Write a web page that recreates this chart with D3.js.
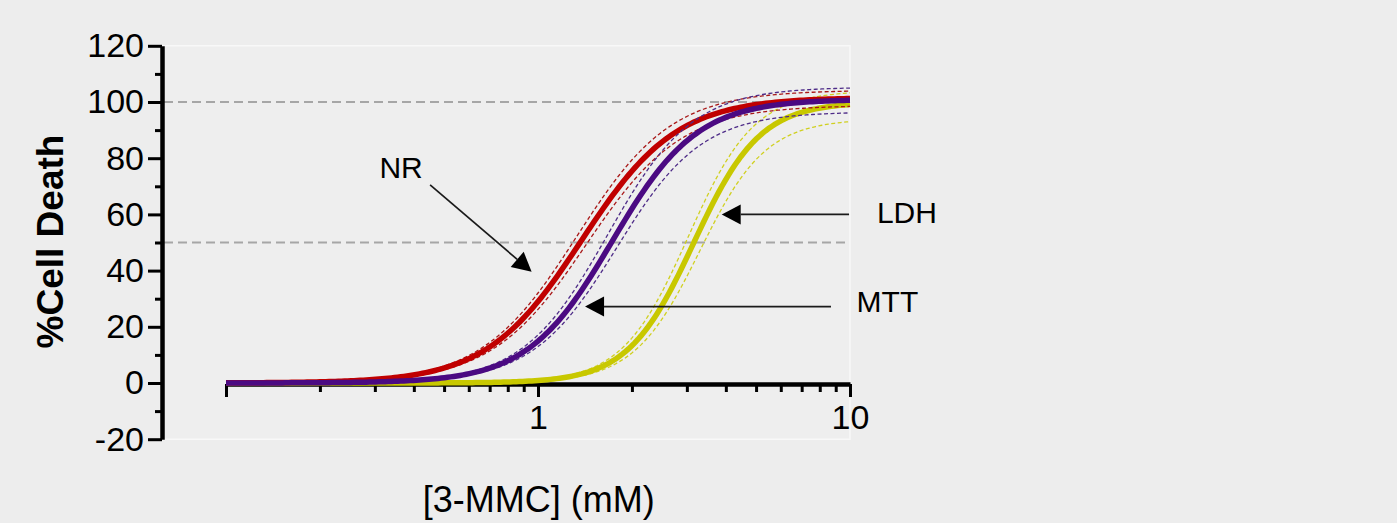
<!DOCTYPE html>
<html>
<head>
<meta charset="utf-8">
<script src="https://cdn.jsdelivr.net/npm/d3@7"></script>
<style>
  body { margin: 0; background: #ededed; }
  svg { display: block; font-family: Arial, "Liberation Sans", sans-serif; }
</style>
</head>
<body>
<svg id="chart" width="1397" height="523"></svg>
<script>
// dose-response fits (logistic fit, bottom = 0)
// draw order: LDH (yellow) under, NR (red), MTT (purple) on top
let assays = ["LDH", "NR", "MTT"];
let colors = ["#c8c800", "#c00000", "#4b0a82"];
let bandColors = ["#d0d020", "#a81818", "#4e2c88"];
let ec50 = [3.16, 1.38, 1.73];
let hillSlope = [4.1, 2.85, 3.2];
let plateau = [100, 101.6, 101];
// 95% confidence band edges
let ec50Upper = [3.03, 1.33, 1.67];
let plateauUpper = [104, 104.2, 105.3];
let ec50Lower = [3.3, 1.43, 1.79];
let plateauLower = [94, 98.8, 96.5];

let yTicks = [-20, 0, 20, 40, 60, 80, 100, 120];
let yMinorTicks = [-10, 10, 30, 50, 70, 90, 110];
let xTicks = [0.1, 1, 10];
let xTickLabels = ["", "1", "10"];
let xMinorTicks = [0.2, 0.3, 0.4, 0.5, 0.6, 0.7, 0.8, 0.9, 2, 3, 4, 5, 6, 7, 8, 9];
let refLines = [100, 50];

// arrows: text position, tail and tip in data units
let notes = [
  {text: "NR", anchor: "middle", tx: 0.364, ty: 73, tail: [0.451, 70.5], tip: [0.954, 39.6]},
  {text: "LDH", anchor: "start", tx: 12.2, ty: 56.8, tail: [9.93, 60], tip: [3.88, 60]},
  {text: "MTT", anchor: "start", tx: 10.5, ty: 25.4, tail: [8.69, 27.2], tip: [1.415, 27.2]}
];

let svg = d3.select("#chart");
let x = d3.scaleLog().domain([0.1, 10]).range([226, 850]);
let y = d3.scaleLinear().domain([-20, 120]).range([439.2, 45.8]);

// faint plot frame
svg.append("rect")
  .attr("x", 162).attr("y", y(120))
  .attr("width", x(10) - 162).attr("height", y(-20) - y(120))
  .attr("fill", "#eeeeee")
  .attr("stroke", "#f8f8f8")
  .attr("stroke-width", 1.5);

svg.selectAll("line.ref")
  .data(refLines)
  .enter()
  .append("line")
  .attr("class", "ref")
  .attr("x1", 164).attr("x2", x(10))
  .attr("y1", d => y(d)).attr("y2", d => y(d))
  .attr("stroke", "#a6a6a6")
  .attr("stroke-width", 2)
  .attr("stroke-dasharray", "9,5");

// y axis
svg.append("g")
  .attr("class", "yaxis")
  .attr("transform", "translate(162,0)")
  .call(d3.axisLeft(y).tickValues(yTicks).tickSize(14).tickSizeOuter(0).tickPadding(4).tickFormat(d => String(d)));
svg.append("g")
  .attr("transform", "translate(162,0)")
  .call(d3.axisLeft(y).tickValues(yMinorTicks).tickSize(7).tickSizeOuter(0).tickFormat(""))
  .select(".domain").remove();

// x axis
svg.append("g")
  .attr("class", "xaxis")
  .attr("transform", "translate(0,384)")
  .call(d3.axisBottom(x).tickValues(xTicks).tickSize(13).tickSizeOuter(0).tickPadding(8)
    .tickFormat((d, i) => xTickLabels[i]));
svg.append("g")
  .attr("transform", "translate(0,384)")
  .call(d3.axisBottom(x).tickValues(xMinorTicks).tickSize(8).tickSizeOuter(0).tickFormat(""))
  .select(".domain").remove();

svg.selectAll(".domain").attr("stroke", "#000").attr("stroke-width", 4.5);
svg.selectAll(".tick line").attr("stroke", "#000").attr("stroke-width", 3);
svg.selectAll(".yaxis, .xaxis")
  .attr("font-family", "Arial, 'Liberation Sans', sans-serif")
  .attr("font-size", 34);
svg.selectAll(".tick text").attr("fill", "#000");

// curves
let logistic = (c, ec, n, tp) => tp / (1 + Math.pow(ec / c, n));
let concs = d3.range(0, 201).map(i => Math.pow(10, -1 + i / 100));
let line = d3.line().x(d => x(d[0])).y(d => y(d[1]));

assays.forEach((name, i) => {
  let g = svg.append("g").attr("class", "assay-" + name);
  [[ec50Upper[i], plateauUpper[i]], [ec50Lower[i], plateauLower[i]]].forEach(b => {
    g.append("path")
      .attr("d", line(concs.map(c => [c, logistic(c, b[0], hillSlope[i], b[1])])))
      .attr("fill", "none")
      .attr("stroke", bandColors[i])
      .attr("stroke-width", 1.3)
      .attr("stroke-dasharray", "4,2.5");
  });
  g.append("path")
    .attr("d", line(concs.map(c => [c, logistic(c, ec50[i], hillSlope[i], plateau[i])])))
    .attr("fill", "none")
    .attr("stroke", colors[i])
    .attr("stroke-width", 5.5);
});

// annotations
notes.forEach(n => {
  let x0 = x(n.tail[0]), y0 = y(n.tail[1]);
  let x1 = x(n.tip[0]), y1 = y(n.tip[1]);
  let len = Math.hypot(x1 - x0, y1 - y0);
  let ux = (x1 - x0) / len, uy = (y1 - y0) / len;
  let headL = 19, headW = 10;
  let bx = x1 - ux * headL, by = y1 - uy * headL;
  svg.append("line")
    .attr("x1", x0).attr("y1", y0).attr("x2", bx).attr("y2", by)
    .attr("stroke", "#1a1a1a").attr("stroke-width", 1.7);
  svg.append("path")
    .attr("d", "M" + x1 + "," + y1 +
      "L" + (bx - uy * headW) + "," + (by + ux * headW) +
      "L" + (bx + uy * headW) + "," + (by - ux * headW) + "Z")
    .attr("fill", "#000");
  svg.append("text")
    .attr("x", x(n.tx)).attr("y", y(n.ty))
    .attr("text-anchor", n.anchor)
    .style("font-size", "30px")
    .text(n.text);
});

// axis titles
svg.append("text")
  .attr("transform", "translate(63,241.5) rotate(-90)")
  .attr("text-anchor", "middle")
  .style("font-size", "37px")
  .style("font-weight", "bold")
  .text("%Cell Death");

svg.append("text")
  .attr("x", 538.7).attr("y", 511.7)
  .attr("text-anchor", "middle")
  .style("font-size", "36px")
  .text("[3-MMC] (mM)");
</script>
</body>
</html>
